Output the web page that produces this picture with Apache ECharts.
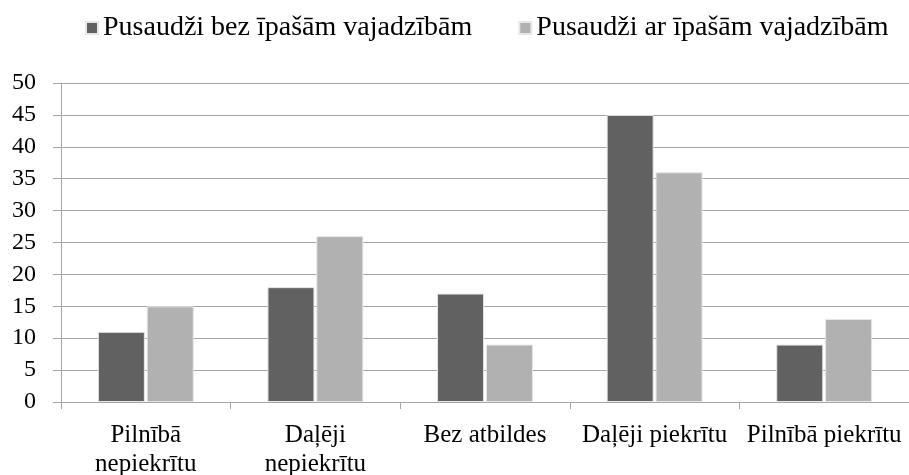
<!DOCTYPE html>
<html>
<head>
<meta charset="utf-8">
<script src="https://cdn.jsdelivr.net/npm/echarts@6/dist/echarts.min.js"></script>
<style>
  html, body { margin: 0; padding: 0; background: #fff; }
  #chart { width: 909px; height: 475px; }
</style>
</head>
<body>
<div id="chart"></div>
<script>
// chart data
const categories = ['Pilnībā\nnepiekrītu', 'Daļēji\nnepiekrītu', 'Bez atbildes', 'Daļēji piekrītu', 'Pilnībā piekrītu']
const seriesNames = ['Pusaudži bez īpašām vajadzībām', 'Pusaudži ar īpašām vajadzībām']
const withoutNeeds = [11, 18, 17, 45, 9]
const withNeeds = [15, 26, 9, 36, 13]

const fontFamily = '"Liberation Serif", "Times New Roman", serif'
const gridColor = '#a6a6a6'

const chart = echarts.init(document.getElementById('chart'))

const barStyle = (color) => ({
  color: color,
  borderColor: '#e6e6e6',
  borderWidth: 1
})

chart.setOption({
  animation: false,
  textStyle: { fontFamily: fontFamily },
  legend: {
    top: 9,
    left: 80,
    itemWidth: 12,
    itemHeight: 12,
    itemGap: 46,
    icon: 'rect',
    textStyle: { fontSize: 28, color: '#000', fontFamily: fontFamily },
    data: seriesNames
  },
  grid: {
    left: 61,
    right: 0,
    top: 83,
    bottom: 73,
    containLabel: false,
    outerBoundsMode: 'none'
  },
  xAxis: {
    type: 'category',
    data: categories,
    axisLine: { lineStyle: { color: gridColor, width: 1 } },
    axisTick: { show: true, length: 7, lineStyle: { color: gridColor } },
    axisLabel: {
      fontSize: 25,
      color: '#000',
      margin: 19,
      lineHeight: 29,
      interval: 0,
      fontFamily: fontFamily
    }
  },
  yAxis: {
    type: 'value',
    min: 0,
    max: 50,
    interval: 5,
    axisLine: { show: true, lineStyle: { color: gridColor, width: 1 } },
    axisTick: { show: true, length: 8, lineStyle: { color: gridColor } },
    splitLine: { lineStyle: { color: gridColor, width: 1 } },
    axisLabel: {
      fontSize: 24,
      color: '#000',
      margin: 25,
      fontFamily: fontFamily
    }
  },
  series: [
    {
      name: seriesNames[0],
      type: 'bar',
      data: withoutNeeds,
      barWidth: 47,
      barGap: '4%',
      itemStyle: barStyle('#616161')
    },
    {
      name: seriesNames[1],
      type: 'bar',
      data: withNeeds,
      barWidth: 47,
      barGap: '4%',
      itemStyle: barStyle('#b1b1b1')
    }
  ]
})
</script>
</body>
</html>
